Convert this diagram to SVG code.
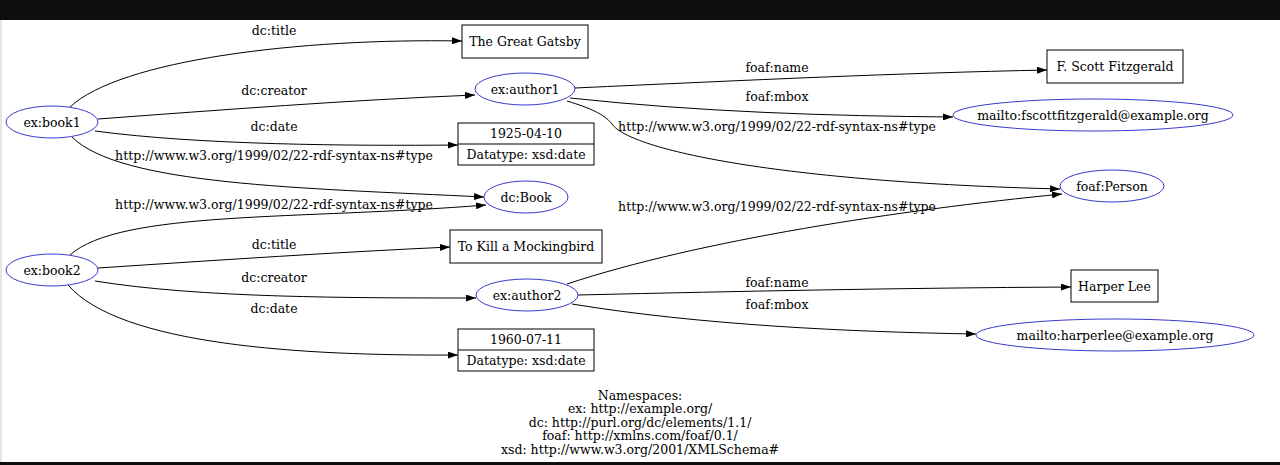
<svg xmlns="http://www.w3.org/2000/svg" width="1280" height="465" viewBox="0 0 1280 465">
<defs>
<style>
text{font-family:"DejaVu Serif","Liberation Serif",serif;font-size:12.5px;fill:#000;text-anchor:middle;dominant-baseline:central}
.res{fill:#fff;stroke:#3a3acc;stroke-width:1}
.lit{fill:#fff;stroke:#000;stroke-width:1}
.e{fill:none;stroke:#000;stroke-width:1;marker-end:url(#ah)}
</style>
<marker id="ah" viewBox="0 0 10 7" refX="10" refY="3.5" markerWidth="10" markerHeight="7" markerUnits="userSpaceOnUse" orient="auto">
<path d="M0,0 L10,3.5 L0,7 Z" fill="#000"/>
</marker>
</defs>
<rect x="0" y="0" width="1280" height="465" fill="#fff"/>
<rect x="0" y="0" width="1280" height="20" fill="#0e0e0e"/>
<rect x="0" y="20" width="2" height="442" fill="#e6e6e6"/>
<rect x="0" y="462" width="1280" height="3" fill="#0e0e0e"/>

<g id="connectors">
<path class="e" d="M70,107 C120,60 300,38 462,41"/>
<text x="274" y="30">dc:title</text>
<path class="e" d="M98,119 C220,110 350,100 475,95"/>
<text x="274" y="90">dc:creator</text>
<path class="e" d="M95,131 C200,145 350,146 458,145"/>
<text x="274" y="126">dc:date</text>
<path class="e" d="M72,137 C120,185 300,188 484,197"/>
<text x="274" y="155">http://www.w3.org/1999/02/22-rdf-syntax-ns#type</text>
<path class="e" d="M70,255 C120,210 300,220 486,205"/>
<text x="274" y="204">http://www.w3.org/1999/02/22-rdf-syntax-ns#type</text>
<path class="e" d="M98,268 C220,260 340,252 450,247"/>
<text x="274" y="244">dc:title</text>
<path class="e" d="M95,281 C200,298 350,298 476,298"/>
<text x="274" y="277">dc:creator</text>
<path class="e" d="M68,285 C120,345 300,356 458,355"/>
<text x="274" y="308">dc:date</text>
<path class="e" d="M575,88 C750,80 900,73 1047,70"/>
<text x="777" y="67">foaf:name</text>
<path class="e" d="M570,98 C700,112 830,116 953,117"/>
<text x="777" y="96">foaf:mbox</text>
<path class="e" d="M567,101 C590,108 604,114 612,124 C630,150 780,182 1060,189"/>
<text x="777" y="126">http://www.w3.org/1999/02/22-rdf-syntax-ns#type</text>
<path class="e" d="M567,284 C700,240 900,210 1062,194"/>
<text x="777" y="206">http://www.w3.org/1999/02/22-rdf-syntax-ns#type</text>
<path class="e" d="M578,295 C750,291 900,288 1071,287"/>
<text x="777" y="282">foaf:name</text>
<path class="e" d="M572,304 C700,325 850,332 976,334"/>
<text x="777" y="304">foaf:mbox</text>
</g>

<g id="book1"><ellipse class="res" cx="52" cy="122" rx="46" ry="16"/><text x="52" y="122">ex:book1</text></g>
<g id="book2"><ellipse class="res" cx="52" cy="270" rx="46" ry="16"/><text x="52" y="270">ex:book2</text></g>
<g id="gatsby"><rect class="lit" x="462" y="25" width="126" height="33"/><text x="525" y="41.5">The Great Gatsby</text></g>
<g id="author1"><ellipse class="res" cx="525" cy="89" rx="50" ry="16"/><text x="525" y="89">ex:author1</text></g>
<g id="date1"><rect class="lit" x="458" y="123" width="136" height="42"/><line x1="458" y1="144" x2="594" y2="144" stroke="#000"/><text x="526" y="133.5">1925-04-10</text><text x="526" y="154.5">Datatype: xsd:date</text></g>
<g id="dcBook"><ellipse class="res" cx="526" cy="197" rx="42" ry="16"/><text x="526" y="197">dc:Book</text></g>
<g id="mockingbird"><rect class="lit" x="450" y="230" width="152" height="33"/><text x="526" y="246.5">To Kill a Mockingbird</text></g>
<g id="author2"><ellipse class="res" cx="527" cy="295" rx="51" ry="16"/><text x="527" y="295">ex:author2</text></g>
<g id="date2"><rect class="lit" x="458" y="329" width="136" height="42"/><line x1="458" y1="350" x2="594" y2="350" stroke="#000"/><text x="526" y="339.5">1960-07-11</text><text x="526" y="360.5">Datatype: xsd:date</text></g>
<g id="fitzgerald"><rect class="lit" x="1047" y="50" width="136" height="33"/><text x="1115" y="66.5">F. Scott Fitzgerald</text></g>
<g id="mbox1"><ellipse class="res" cx="1093" cy="115" rx="140" ry="16"/><text x="1093" y="115">mailto:fscottfitzgerald@example.org</text></g>
<g id="person"><ellipse class="res" cx="1112" cy="186" rx="52" ry="16"/><text x="1112" y="186">foaf:Person</text></g>
<g id="harper"><rect class="lit" x="1071" y="270" width="87" height="32"/><text x="1114.5" y="286">Harper Lee</text></g>
<g id="mbox2"><ellipse class="res" cx="1115" cy="335" rx="139" ry="16"/><text x="1115" y="335">mailto:harperlee@example.org</text></g>

<g id="namespaces">
<text x="640" y="395">Namespaces:</text>
<text x="640" y="408.5">ex: http://example.org/</text>
<text x="640" y="422">dc: http://purl.org/dc/elements/1.1/</text>
<text x="640" y="435.5">foaf: http://xmlns.com/foaf/0.1/</text>
<text x="640" y="449">xsd: http://www.w3.org/2001/XMLSchema#</text>
</g>
</svg>
